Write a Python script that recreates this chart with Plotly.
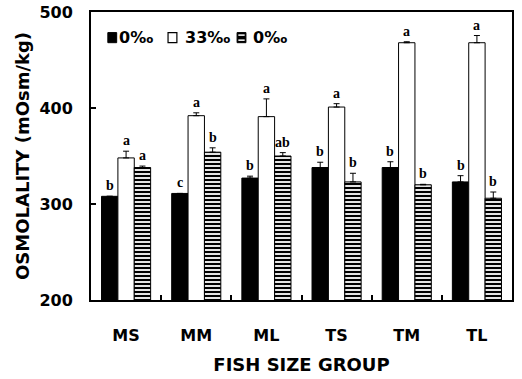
import plotly.graph_objects as go

groups = ["MS", "MM", "ML", "TS", "TM", "TL"]

fw0_a = [308, 311, 327, 338, 338, 323]
fw0_a_err = [0, 0, 2, 5.5, 6, 6.5]
fw0_a_sig = ["b", "c", "b", "b", "b", "b"]

sw33 = [348, 392, 391, 401, 468, 468]
sw33_err = [7, 3, 18.5, 3.5, 1, 7.5]
sw33_sig = ["a", "a", "a", "a", "a", "a"]

fw0_b = [338, 354, 350, 323, 320, 306]
fw0_b_err = [1.5, 4.5, 3.5, 9, 0.5, 6.5]
fw0_b_sig = ["a", "b", "ab", "b", "b", "b"]

legend_names = ["0‰", "33‰", "0‰"]

SANS = "DejaVu Sans"
SERIF = "Liberation Serif"

fig = go.Figure()

stripes = dict(shape="-", bgcolor="black", fgcolor="white",
               size=4, solidity=0.45, fillmode="replace")
series = [
    (fw0_a, fw0_a_err, dict(color="black")),
    (sw33, sw33_err, dict(color="white")),
    (fw0_b, fw0_b_err, dict(color="black", pattern=stripes)),
]

for (vals, errs, mk), name in zip(series, legend_names):
    mk = dict(mk)
    mk["line"] = dict(color="black", width=1)
    fig.add_trace(go.Bar(
        x=groups, y=vals, name=name, marker=mk, showlegend=False,
        error_y=dict(type="data", symmetric=False, array=errs,
                     arrayminus=[0] * len(errs), color="black",
                     thickness=1, width=3),
    ))

# significance letters above each bar's error bar
bar_px = 16.4
for k, (vals, errs, sigs) in enumerate([(fw0_a, fw0_a_err, fw0_a_sig),
                                         (sw33, sw33_err, sw33_sig),
                                         (fw0_b, fw0_b_err, fw0_b_sig)]):
    for g, v, e, s in zip(groups, vals, errs, sigs):
        fig.add_annotation(x=g, y=v + e, text=f"<b>{s}</b>", showarrow=False,
                           xshift=(k - 1) * bar_px, yshift=1, yanchor="bottom",
                           font=dict(family=SERIF, size=14, color="black"))

# compact key in the upper-left corner of the plot area (paper coordinates)
key_y = 0.911
sw_h = 0.035
sw_w = 0.021
key_x = [0.040, 0.183, 0.347]
text_x = [0.062, 0.219, 0.380]
for i, (xk, xt, name) in enumerate(zip(key_x, text_x, legend_names)):
    y0, y1 = key_y - sw_h / 2, key_y + sw_h / 2
    if i == 1:
        fig.add_shape(type="rect", xref="paper", yref="paper",
                      x0=xk, x1=xk + sw_w, y0=y0, y1=y1,
                      fillcolor="white", line=dict(color="black", width=1.2))
    else:
        fig.add_shape(type="rect", xref="paper", yref="paper",
                      x0=xk, x1=xk + sw_w, y0=y0, y1=y1,
                      fillcolor="black", line=dict(color="black", width=1))
    if i == 2:
        for dy in (-sw_h / 4, sw_h / 4):
            fig.add_shape(type="line", xref="paper", yref="paper",
                          x0=xk + 0.003, x1=xk + sw_w - 0.003,
                          y0=key_y + dy, y1=key_y + dy,
                          line=dict(color="white", width=1.5))
    fig.add_annotation(xref="paper", yref="paper", x=xt, y=key_y,
                       xanchor="left", yanchor="middle", showarrow=False,
                       text=name,
                       font=dict(family=SANS, size=16, color="black", weight="bold"))

# vertical axis title
fig.add_annotation(xref="paper", yref="paper", x=-0.164, y=0.5,
                   xanchor="center", yanchor="middle", showarrow=False,
                   textangle=-90, text="OSMOLALITY (mOsm/kg)",
                   font=dict(family=SANS, size=18, color="black", weight="bold"))

fig.update_layout(
    width=522, height=379,
    margin=dict(l=91, r=10, t=12, b=79, autoexpand=False),
    paper_bgcolor="white", plot_bgcolor="white",
    barmode="group", bargap=0.3, bargroupgap=0,
    showlegend=False,
    font=dict(family=SANS, color="black"),
)

fig.update_yaxes(
    range=[200, 500], tickvals=[200, 300, 400, 500], automargin=False,
    ticks="inside", ticklen=5, tickwidth=1.5, tickcolor="black",
    showline=True, linecolor="black", linewidth=2, mirror=True,
    showgrid=False, zeroline=False,
    tickfont=dict(family=SANS, size=16, color="black", weight="bold"),
    ticklabelstandoff=13,
)
fig.update_xaxes(
    range=[-0.5, 5.5], tickson="boundaries", automargin=True,
    ticks="inside", ticklen=5, tickwidth=1.5, tickcolor="black",
    showline=True, linecolor="black", linewidth=2, mirror=True,
    showgrid=False,
    tickfont=dict(family=SANS, size=16, color="black", weight="bold"),
    ticklabelstandoff=20,
    title=dict(text="FISH SIZE GROUP", standoff=14,
               font=dict(family=SANS, size=18, color="black", weight="bold")),
)

fig.write_html("out.html")
